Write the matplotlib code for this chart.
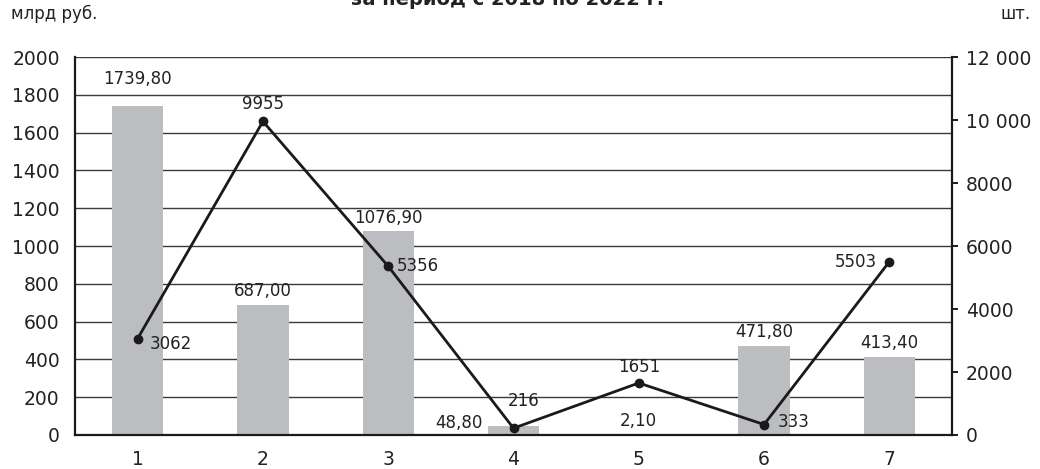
import matplotlib.pyplot as plt
import numpy as np

plt.rcParams['font.family'] = ['DejaVu Sans']

categories = ['1', '2', '3', '4', '5', '6', '7']
bar_values = [1739.80, 687.00, 1076.90, 48.80, 2.10, 471.80, 413.40]
line_values = [3062, 9955, 5356, 216, 1651, 333, 5503]
left_ticks = list(range(0, 2001, 200))
right_ticks = [0, 2000, 4000, 6000, 8000, 10000, 12000]
right_labels = ['0', '2000', '4000', '6000', '8000', '10 000', '12 000']

fig = plt.figure(figsize=(10.4, 4.69), dpi=100)
ax = fig.add_axes([75 / 1040, 1 - 435 / 469, 877 / 1040, 378 / 469])
x = np.arange(1, len(categories) + 1)
ink = '#222222'

ax.set_axisbelow(True)
ax.bar(x, bar_values, width=0.41, color='#bcbdc0', zorder=2)
ax.set_xlim(0.5, 7.5)
ax.set_ylim(0, 2000)
ax.set_yticks(left_ticks)
ax.set_xticks(x)
ax.set_xticklabels(categories)
ax.yaxis.grid(True, color='#3a3a3a', linewidth=1.0)
ax.tick_params(axis='y', length=0, pad=11, labelsize=13.5, labelcolor=ink)
ax.tick_params(axis='x', length=0, pad=11, labelsize=13.5, labelcolor=ink)
for s in ['left', 'bottom', 'right']:
    ax.spines[s].set_color('#1a1a1a')
    ax.spines[s].set_linewidth(1.6)
ax.spines['top'].set_visible(False)

# подписи столбцов
for i, v in enumerate(bar_values):
    txt = f'{v:.2f}'.replace('.', ',')
    if i == 3:
        ax.annotate(txt, (x[i] - 0.205, v), xytext=(-4, 2), textcoords='offset points',
                    ha='right', va='center', fontsize=12, color=ink)
    else:
        dy = 13 if i == 0 else 3.5
        ax.annotate(txt, (x[i], v), xytext=(0, dy), textcoords='offset points',
                    ha='center', va='bottom', fontsize=12, color=ink)

ax2 = ax.twinx()
ax2.set_ylim(0, 12000)
ax2.set_yticks(right_ticks)
ax2.set_yticklabels(right_labels)
ax2.tick_params(axis='y', length=4, width=1.4, pad=6, labelsize=13.5, color='#1a1a1a', labelcolor=ink)
for s in ['left', 'bottom', 'right', 'top']:
    ax2.spines[s].set_visible(False)
ax2.plot(x, line_values, color='#1a1a1a', linewidth=2.0, marker='o', markersize=6, zorder=5)

line_offsets = [(8.5, -4, 'left', 'center'), (0, 6, 'center', 'bottom'),
                (6.5, 0, 'left', 'center'), (7, 13, 'center', 'bottom'),
                (0, 5, 'center', 'bottom'), (10, 2, 'left', 'center'),
                (-9, 0, 'right', 'center')]
for i, v in enumerate(line_values):
    dx, dy, ha, va = line_offsets[i]
    ax2.annotate(str(v), (x[i], v), xytext=(dx, dy), textcoords='offset points',
                 ha=ha, va=va, fontsize=12, color=ink)

fig.text(11 / 1040, 1 - 14 / 469, 'млрд руб.', ha='left', va='center', fontsize=12, color=ink)
fig.text(1031 / 1040, 1 - 14 / 469, 'шт.', ha='right', va='center', fontsize=12, color=ink)
fig.text(508 / 1040, 1 - 5 / 469, 'за период с 2018 по 2022 г.', ha='center', va='baseline',
         fontsize=14, fontweight='bold', color=ink)

fig.savefig('out.png', dpi=100)
